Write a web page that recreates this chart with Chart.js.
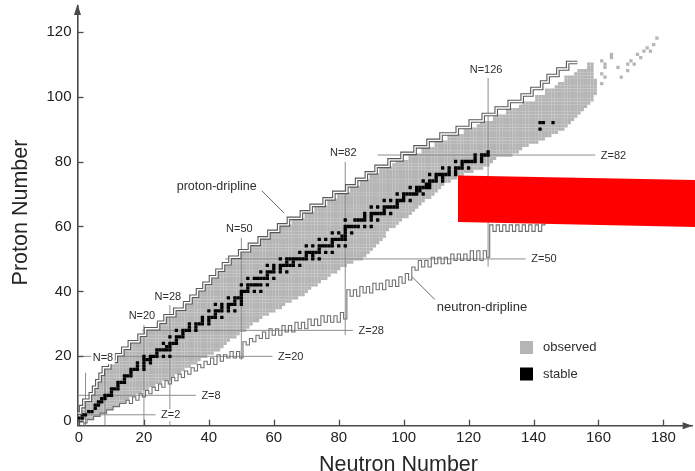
<!DOCTYPE html>
<html>
<head>
<meta charset="utf-8">
<title>Chart of nuclides</title>
<script src="https://cdn.jsdelivr.net/npm/chart.js@4.4.1/dist/chart.umd.min.js"></script>
<style>
  html, body { margin:0; padding:0; background:#ffffff; overflow:hidden; }
  #wrap { position:relative; width:695px; height:471px; }
  canvas { display:block; }
</style>
</head>
<body>
<div id="wrap"><canvas id="chart" width="695" height="471"></canvas></div>
<script>
// ---------------- DATA ----------------
const N_TICKS = [0, 20, 40, 60, 80, 100, 120, 140, 160, 180];
const Z_TICKS = [0, 20, 40, 60, 80, 100, 120];

// observed nuclides: for each proton number Z (index 0..110) the lightest and heaviest neutron number
const observedNmin = [
  1,0,1,1,2,2,2,4,4,5,
  5,6,6,7,7,8,8,10,10,12,
  12,14,14,16,16,19,19,21,21,25,
  25,27,27,30,30,33,33,35,35,37,
  37,39,39,41,41,43,43,45,45,47,
  47,50,50,53,53,56,56,59,59,62,
  62,66,66,70,70,73,73,77,77,80,
  80,84,84,87,87,90,90,93,93,97,
  98,102,102,106,106,110,110,114,114,119,
  119,123,124,128,128,132,132,136,137,141,
  141,144,144,147,148,150,150,153,154,157,
  157
];
const observedNmax = [
  1,4,6,8,10,12,14,15,17,19,
  21,23,25,28,29,31,32,34,36,37,
  39,41,43,44,45,46,48,49,51,52,
  53,55,56,58,60,62,63,65,67,69,
  70,71,73,74,76,77,79,80,82,84,
  87,88,89,90,91,92,93,94,94,95,
  97,98,99,101,102,103,104,105,106,108,
  109,110,111,112,114,116,118,121,124,126,
  127,128,133,135,136,138,141,143,145,147,
  149,150,151,152,153,154,155,156,157,158,
  158,159,159,159,159,159,158,158,158,158,
  158
];
// isolated observed superheavy nuclides
const observedExtraN = [161,162,161,162,162,161,164,164,166,167,169,169,170,171,172,173,174,175,176,177,178];
const observedExtraZ = [104,106,107,109,110,111,112,113,109,106,108,110,111,110,113,112,114,115,114,116,118];

// stable nuclides: neutron numbers for each Z (index = Z)
const stableN = [
  [], [0,1], [1,2], [3,4], [5], [5,6], [6,7], [7,8], [8,9,10], [10],
  [10,11,12], [12], [12,13,14], [14], [14,15,16], [16], [16,17,18,20], [18,20], [18,20,22], [20,21,22],
  [20,22,23,24,26,28], [24], [24,25,26,27,28], [27,28], [26,28,29,30], [30], [28,30,31,32], [32], [30,32,33,34,36], [34,36],
  [34,36,37,38,40], [38,40], [38,40,41,42,44], [42], [40,42,43,44,46,48], [44,46], [42,44,46,47,48,50], [48,50], [46,48,49,50], [50],
  [50,51,52,54,56], [52], [50,52,53,54,55,56,58], [], [52,54,55,56,57,58,60], [58], [56,58,59,60,62,64], [60,62], [58,60,62,63,64,65,66,68], [64,66],
  [62,64,65,66,67,68,69,70,72,74], [70,72], [68,70,71,72,73,74,76,78], [74], [70,72,74,75,76,77,78,80,82], [78], [74,76,78,79,80,81,82], [81,82], [78,80,82,84], [82],
  [82,83,84,85,86,88,90], [], [82,85,86,87,88,90,92], [88,90], [88,90,91,92,93,94,96], [94], [90,92,94,95,96,97,98], [98], [94,96,98,99,100,102], [100],
  [98,100,101,102,103,104,106], [104,105], [102,104,105,106,107,108], [107,108], [106,108,109,110,112], [110,112], [108,110,111,112,113,114,116], [114,116], [112,114,116,117,118,120], [118],
  [116,118,119,120,121,122,124], [122,124], [122,124,125,126], [126], [], [], [], [], [], [],
  [142], [], [142,143,146]
];

// proton dripline: staircase corners (N where the line rises to Z)
const protonDripN = [0,1,2,4,5,6,7,8,10,12,14,16,19,21,25,27,30,33,35,37,39,41,43,45,47,50,53,56,59,62,65,69,72,76,79,83,86,89,92,96,100,104,108,112,117,121,125,129,133,137,140,143,145,148,151,154];
const protonDripZ = [2,4,6,8,10,12,14,16,18,20,22,24,26,28,30,32,34,36,38,40,42,44,46,48,50,52,54,56,58,60,62,64,66,68,70,72,74,76,78,80,82,84,86,88,90,92,94,96,98,100,102,104,106,108,110,110];

// neutron dripline: lowest bound Z for each N
const neutronDripN = [
  1,2,3,4,5,6,7,8,9,10, 11,12,13,14,15,16,17,18,19,20,
  21,22,23,24,25,26,27,28,29,30, 31,32,33,34,35,36,37,38,39,40,
  41,42,43,44,45,46,47,48,49,50, 51,52,53,54,55,56,57,58,59,60,
  61,62,63,64,65,66,67,68,69,70, 71,72,73,74,75,76,77,78,79,80,
  81,82,83,84,85,86,87,88,89,90, 91,92,93,94,95,96,97,98,99,100,
  101,102,103,104,105,106,107,108,109,110, 111,112,113,114,115,116,117,118,119,120,
  121,122,123,124,125,126,127,128,129,130, 131,132,133,134,135,136,137,138,139,140,
  141,142,143,144,145,146,147
];
const neutronDripZ = [
  -1,0,1,1,2,2,3,3,4,4, 5,5,6,6,7,6,8,7,9,8,
  10,9,11,10,12,11,13,12,14,13, 15,14,16,15,17,16,18,17,19,18,
  20,18,21,19,21,20,22,20,22,20, 25,24,26,25,27,26,28,26,29,27,
  29,27,30,28,30,28,31,29,31,29, 32,30,32,30,33,31,33,31,33,31,
  34,32,41,39,41,39,42,40,42,40, 43,41,43,41,44,42,44,42,45,43,
  46,44,48,47,50,48,50,48,51,49, 51,49,51,49,52,50,52,50,52,50,
  53,50,53,50,53,51,61,59,61,59, 61,59,61,59,61,59,61,59,61,59,
  61,59,61,63,65,67,69
];

// magic numbers
const magicN = [2, 8, 20, 28, 50, 82, 126];
const magicNZfrom = [-1.3, -1.3, -1.3, -1.3, 18.9, 26.6, 47.6];
const magicNZto = [14.9, 16.8, 29.7, 35.8, 56.5, 79.9, 105.7];
const magicNLabels = ['', 'N=8', 'N=20', 'N=28', 'N=50', 'N=82', 'N=126'];
const magicZ = [2, 8, 20, 28, 50, 82];
const magicZNfrom = [0, 0, 0, 19.5, 45, 92];
const magicZNto = [23.6, 36, 59.6, 84.4, 137.6, 159];
const magicZLabels = ['Z=2', 'Z=8', 'Z=20', 'Z=28', 'Z=50', 'Z=82'];

const X_TITLE = 'Neutron Number';
const Y_TITLE = 'Proton Number';
const LEGEND_LABELS = ['observed', 'stable'];

// ---------------- STYLE ----------------
const FONT = "'Liberation Sans', Arial, Helvetica, sans-serif";
const OBS_COLOR = '#b5b5b5';
const STABLE_COLOR = '#000000';
const AXIS_COLOR = '#4a4a4a';
const MAGIC_COLOR = '#8e8e8e';
const TEXT_COLOR = '#2e2e2e';

// ---------------- BUILD ----------------
const observedPoints = [];
observedNmin.forEach((lo, z) => {
  for (let n = lo; n <= observedNmax[z]; n++) observedPoints.push({x: n, y: z});
});
observedExtraN.forEach((n, i) => observedPoints.push({x: n, y: observedExtraZ[i]}));

const stablePoints = [];
stableN.forEach((list, z) => list.forEach(n => stablePoints.push({x: n, y: z})));

// driplines run along cell edges
const protonDripPoints = protonDripN.map((n, i) => ({x: n - 0.5, y: protonDripZ[i] + 0.5}));
const neutronDripPoints = neutronDripN.map((n, i) => ({x: n, y: neutronDripZ[i] - 0.5}));

const lineBase = {showLine: true, pointRadius: 0, pointHoverRadius: 0, fill: false, borderCapStyle: 'butt', borderJoinStyle: 'miter'};

const datasets = [];
datasets.push({label: 'observed', data: observedPoints, pointStyle: 'rect', pointRadius: 2.32, pointHoverRadius: 2.32,
  backgroundColor: OBS_COLOR, borderWidth: 0, order: 10});
magicN.forEach((n, i) => datasets.push(Object.assign({}, lineBase, {
  label: 'magicN' + n, data: [{x: n, y: magicNZfrom[i]}, {x: n, y: magicNZto[i]}],
  borderColor: MAGIC_COLOR, borderWidth: 1, order: 9})));
magicZ.forEach((z, i) => datasets.push(Object.assign({}, lineBase, {
  label: 'magicZ' + z, data: [{x: magicZNfrom[i], y: z}, {x: magicZNto[i], y: z}],
  borderColor: MAGIC_COLOR, borderWidth: 1, order: 9})));
datasets.push(Object.assign({}, lineBase, {label: 'neutron-dripline', data: neutronDripPoints, stepped: 'middle',
  borderColor: '#707070', borderWidth: 1.1, order: 7}));
datasets.push({label: 'stable', data: stablePoints, pointStyle: 'rect', pointRadius: 2.35, pointHoverRadius: 2.35,
  backgroundColor: STABLE_COLOR, borderWidth: 0, order: 6});
datasets.push(Object.assign({}, lineBase, {label: 'proton-dripline', data: protonDripPoints, stepped: true,
  borderColor: '#585858', borderWidth: 3.6, order: 5}));
datasets.push(Object.assign({}, lineBase, {label: 'proton-dripline-inner', data: protonDripPoints, stepped: true,
  borderColor: '#ffffff', borderWidth: 1.4, order: 4}));

function drawLabel(ctx, text, px, py, align) {
  const w = ctx.measureText(text).width;
  const left = align === 'left' ? px : px - w / 2;
  ctx.fillStyle = '#ffffff';
  ctx.fillRect(left - 1.5, py - 6, w + 3, 12);
  ctx.fillStyle = TEXT_COLOR;
  ctx.textAlign = 'left';
  ctx.fillText(text, left, py);
}

const decorPlugin = {
  id: 'nuclideDecor',
  afterDraw(chart) {
    const {ctx, chartArea: ca, scales} = chart;
    const xs = scales.x, ys = scales.y;
    ctx.save();

    // inward tick marks
    ctx.strokeStyle = AXIS_COLOR; ctx.lineWidth = 1.3;
    N_TICKS.forEach(v => {
      const px = Math.round(xs.getPixelForValue(v)) + 0.5;
      ctx.beginPath(); ctx.moveTo(px, ca.bottom); ctx.lineTo(px, ca.bottom - 6); ctx.stroke();
    });
    Z_TICKS.forEach(v => {
      const py = Math.round(ys.getPixelForValue(v)) + 0.5;
      ctx.beginPath(); ctx.moveTo(ca.left, py); ctx.lineTo(ca.left + 6, py); ctx.stroke();
    });

    // arrow heads
    ctx.fillStyle = AXIS_COLOR;
    ctx.beginPath(); ctx.moveTo(ca.left, ca.top - 2); ctx.lineTo(ca.left - 3.5, ca.top + 9); ctx.lineTo(ca.left + 3.5, ca.top + 9); ctx.closePath(); ctx.fill();
    ctx.beginPath(); ctx.moveTo(ca.right, ca.bottom); ctx.lineTo(ca.right - 10, ca.bottom - 3.5); ctx.lineTo(ca.right - 10, ca.bottom + 3.5); ctx.closePath(); ctx.fill();

    // magic number labels
    ctx.font = '11px ' + FONT;
    ctx.textBaseline = 'middle';
    magicN.forEach((n, i) => {
      if (!magicNLabels[i]) return;
      drawLabel(ctx, magicNLabels[i], xs.getPixelForValue(n) - 2, ys.getPixelForValue(magicNZto[i]) - 8.5, 'center');
    });
    magicZ.forEach((z, i) => {
      drawLabel(ctx, magicZLabels[i], xs.getPixelForValue(magicZNto[i]) + 5.5, ys.getPixelForValue(z) + 0.5, 'left');
    });

    // dripline annotations with leader lines
    ctx.strokeStyle = '#6a6a6a'; ctx.lineWidth = 1;
    ctx.beginPath();
    ctx.moveTo(xs.getPixelForValue(56.3), ys.getPixelForValue(71.0));
    ctx.lineTo(xs.getPixelForValue(63.2), ys.getPixelForValue(64.1));
    ctx.moveTo(xs.getPixelForValue(102.6), ys.getPixelForValue(44.5));
    ctx.lineTo(xs.getPixelForValue(109.6), ys.getPixelForValue(37.5));
    ctx.stroke();
    ctx.fillStyle = TEXT_COLOR;
    ctx.textAlign = 'left';
    ctx.font = '12.5px ' + FONT;
    ctx.fillText('proton-dripline', xs.getPixelForValue(30.1), ys.getPixelForValue(72.2));
    ctx.font = '13px ' + FONT;
    ctx.fillText('neutron-dripline', xs.getPixelForValue(110.2), ys.getPixelForValue(35.2));

    // legend
    ctx.fillStyle = OBS_COLOR; ctx.fillRect(520, 341, 13, 13);
    ctx.fillStyle = STABLE_COLOR; ctx.fillRect(520, 367.5, 13, 13);
    ctx.fillStyle = TEXT_COLOR; ctx.font = '13px ' + FONT;
    ctx.fillText(LEGEND_LABELS[0], 543, 347.5);
    ctx.fillText(LEGEND_LABELS[1], 543, 374);

    // axis titles
    ctx.fillStyle = '#262626';
    ctx.font = '21.5px ' + FONT;
    ctx.textAlign = 'center'; ctx.textBaseline = 'alphabetic';
    ctx.fillText(X_TITLE, 398.5, 470.5);
    ctx.save();
    ctx.translate(27, 212.5); ctx.rotate(-Math.PI / 2);
    ctx.fillText(Y_TITLE, 0, 0);
    ctx.restore();

    // red overlay block present in the reference image
    ctx.fillStyle = '#ff0000';
    ctx.beginPath();
    ctx.moveTo(458, 175.5); ctx.lineTo(695, 180); ctx.lineTo(695, 227); ctx.lineTo(458, 222);
    ctx.closePath(); ctx.fill();

    ctx.restore();
  }
};

const tickFont = {family: FONT, size: 15};
new Chart(document.getElementById('chart'), {
  type: 'scatter',
  data: {datasets},
  options: {
    responsive: false,
    devicePixelRatio: 1,
    animation: false,
    events: [],
    layout: {padding: {top: 6, left: 0, right: 0, bottom: 0}},
    plugins: {legend: {display: false}, tooltip: {enabled: false}, title: {display: false}},
    scales: {
      x: {
        type: 'linear', position: 'bottom', min: -0.46, max: 189,
        afterBuildTicks: s => { s.ticks = N_TICKS.map(v => ({value: v})); },
        afterFit: s => { s.height = 45.3; s.paddingLeft = 0; s.paddingRight = 0; s.paddingTop = 0; s.paddingBottom = 0; },
        grid: {display: false, drawTicks: false},
        border: {display: true, color: AXIS_COLOR, width: 1.6},
        ticks: {font: tickFont, color: '#222222', padding: 3.5, maxRotation: 0, autoSkip: false},
        z: 1
      },
      y: {
        type: 'linear', position: 'left', min: -1.36, max: 127.9,
        afterBuildTicks: s => { s.ticks = Z_TICKS.map(v => ({value: v})); },
        afterFit: s => { s.width = 77.5; s.paddingLeft = 0; s.paddingRight = 0; s.paddingTop = 0; s.paddingBottom = 0; },
        grid: {display: false, drawTicks: false},
        border: {display: true, color: AXIS_COLOR, width: 1.6},
        ticks: {font: tickFont, color: '#222222', padding: 6, autoSkip: false},
        z: 1
      }
    }
  },
  plugins: [decorPlugin]
});
</script>
</body>
</html>
